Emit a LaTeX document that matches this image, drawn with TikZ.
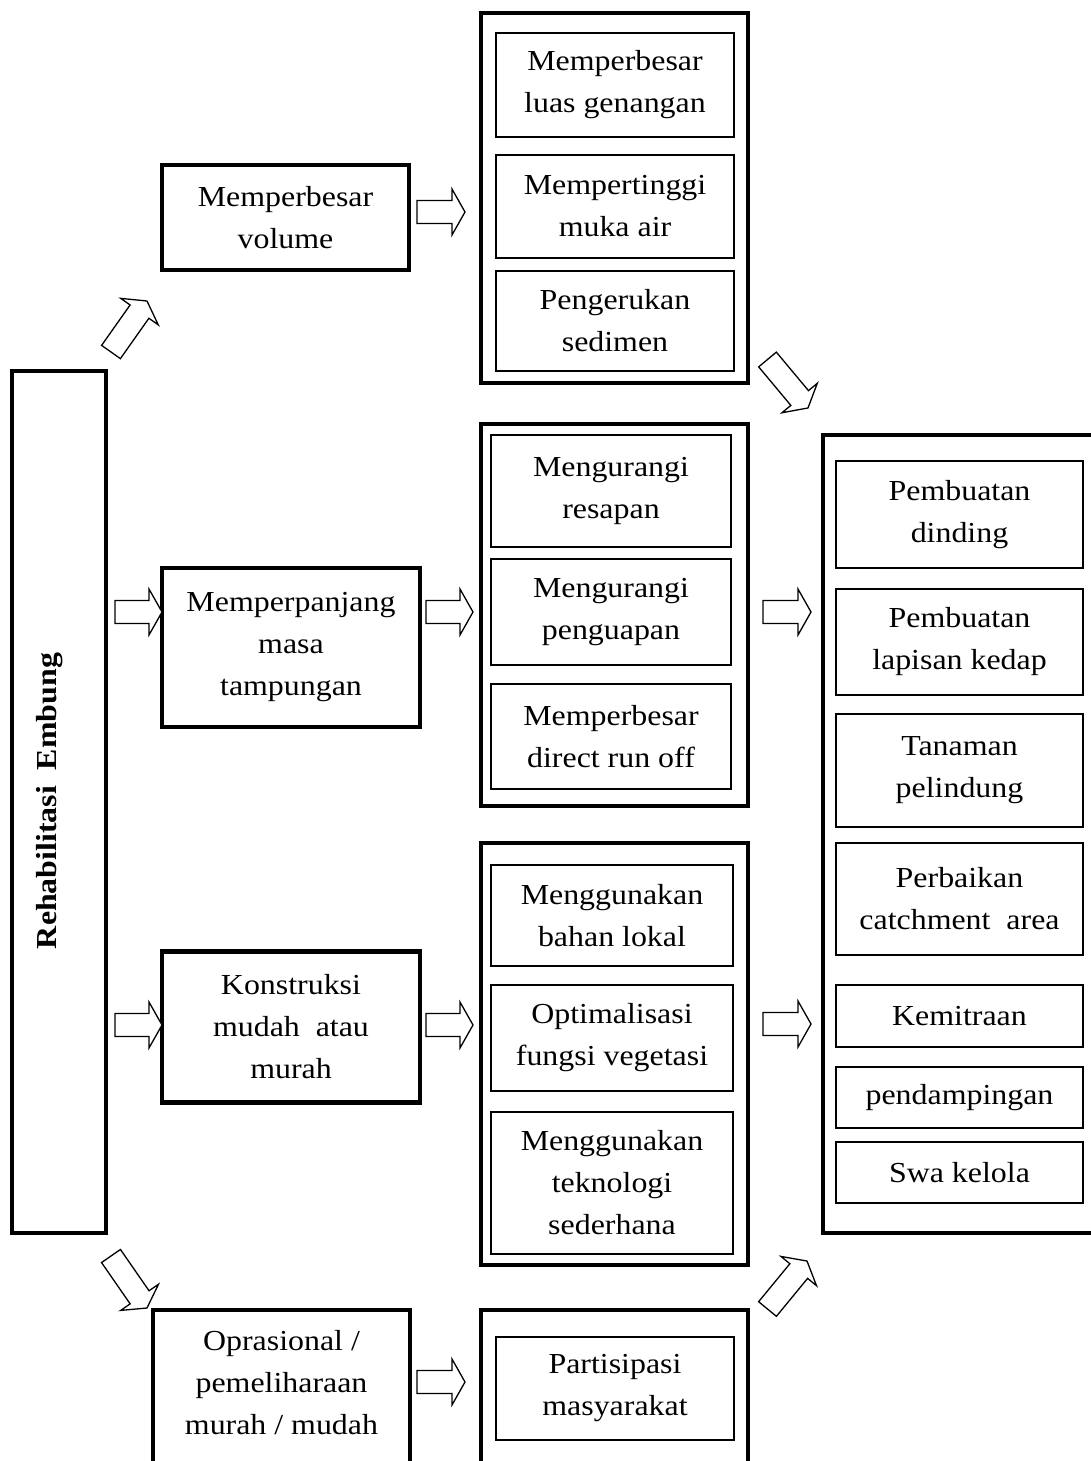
\documentclass[tikz,border=0pt]{standalone}
\usepackage{fontspec}
\setmainfont{Liberation Serif}[FakeStretch=1.1]
\begin{document}
\begin{tikzpicture}[x=1pt,y=-1pt,
  txt/.style={font=\fontsize{29}{42}\selectfont, align=center, inner sep=0pt},
  thickbox/.style={draw, line width=4.5pt, inner sep=0pt, txt},
  inbox/.style={draw, line width=1.5pt, inner sep=0pt, txt},
  arr/.style={draw, line width=1.3pt, fill=white, line join=miter}]
\newcommand{\barrow}[4]{%
  \pgfmathsetmacro{\bdx}{#3-#1}\pgfmathsetmacro{\bdy}{#2-#4}%
  \pgfmathsetmacro{\bang}{atan2(\bdy,\bdx)}\pgfmathsetmacro{\blen}{veclen(\bdx,\bdy)}%
  \begin{scope}[shift={(#1,#2)}, rotate=\bang]
    \draw[arr] (0,-11.5) -- (\blen-13,-11.5) -- (\blen-13,-23) -- (\blen,0)
      -- (\blen-13,23) -- (\blen-13,11.5) -- (0,11.5) -- cycle;
  \end{scope}}
\useasboundingbox (0,0) rectangle (1091,1461);
\clip (0,0) rectangle (1091,1461);
\fill[white] (0,0) rectangle (1091,1461);

% left main box
\node[thickbox, minimum width=94, minimum height=862] (L) at (59,802) {};
\node[txt, font=\fontsize{29}{42}\selectfont\bfseries, rotate=90, anchor=base] (Lt) at (56,801) {Rehabilitasi\ \ Embung};

% second level
\node[thickbox, minimum width=247, minimum height=105] (V) at (285.5,217.5) {Memperbesar\\volume};
\node[thickbox, minimum width=258, minimum height=159] (P) at (291,647.5) {Memperpanjang\\masa\\tampungan};
\node[thickbox, minimum width=258, minimum height=151] (K) at (291,1027) {Konstruksi\\mudah\ \ atau\\murah};
\node[thickbox, minimum width=257, minimum height=170] (O) at (281.5,1395) {};
\node[txt] (Ot) at (281.5,1383) {Oprasional /\\pemeliharaan\\murah / mudah};

% column 1
\node[thickbox, minimum width=267, minimum height=370] (C1) at (614.5,198) {};
\node[inbox, minimum width=238, minimum height=104] (a1) at (615,85) {Memperbesar\\luas genangan};
\node[inbox, minimum width=238, minimum height=103] (a2) at (615,206.5) {Mempertinggi\\muka air};
\node[inbox, minimum width=238, minimum height=100] (a3) at (615,321) {Pengerukan\\sedimen};

% column 2
\node[thickbox, minimum width=267, minimum height=382] (C2) at (614.5,615) {};
\node[inbox, minimum width=240, minimum height=112] (b1) at (611,491) {Mengurangi\\resapan};
\node[inbox, minimum width=240, minimum height=106] (b2) at (611,612) {Mengurangi\\penguapan};
\node[inbox, minimum width=240, minimum height=105] (b3) at (611,736.5) {Memperbesar\\direct run off};

% column 3
\node[thickbox, minimum width=267, minimum height=422] (C3) at (614.5,1054) {};
\node[inbox, minimum width=242, minimum height=101] (c1) at (612,915.5) {Menggunakan\\bahan lokal};
\node[inbox, minimum width=242, minimum height=106] (c2) at (612,1038) {Optimalisasi\\fungsi vegetasi};
\node[inbox, minimum width=242, minimum height=142] (c3) at (612,1183) {Menggunakan\\teknologi\\sederhana};

% column 4
\node[thickbox, minimum width=267, minimum height=170] (C4) at (614.5,1395) {};
\node[inbox, minimum width=238, minimum height=103] (d1) at (615,1388.5) {Partisipasi\\masyarakat};

% right column
\node[thickbox, minimum width=287, minimum height=798] (R) at (966.5,834) {};
\node[inbox, minimum width=247, minimum height=107] (r1) at (959.5,514.5) {Pembuatan\\dinding};
\node[inbox, minimum width=247, minimum height=106] (r2) at (959.5,642) {Pembuatan\\lapisan kedap};
\node[inbox, minimum width=247, minimum height=113] (r3) at (959.5,770.5) {Tanaman\\pelindung};
\node[inbox, minimum width=247, minimum height=112] (r4) at (959.5,899) {Perbaikan\\catchment\ \ area};
\node[inbox, minimum width=247, minimum height=62] (r5) at (959.5,1016) {Kemitraan};
\node[inbox, minimum width=247, minimum height=61] (r6) at (959.5,1097.5) {pendampingan};
\node[inbox, minimum width=247, minimum height=61] (r7) at (959.5,1172.5) {Swa kelola};

% block arrows
\barrow{417}{212}{465}{212}
\barrow{115}{612}{162}{612}
\barrow{426}{612}{473}{612}
\barrow{763}{612}{811}{612}
\barrow{115}{1025}{162}{1025}
\barrow{426}{1025}{473}{1025}
\barrow{763}{1024}{811}{1024}
\barrow{417}{1382}{465}{1382}
\barrow{111}{352}{147}{301}
\barrow{767.5}{359.5}{808}{408}
\barrow{111}{1256}{147}{1308}
\barrow{767.5}{1309}{807}{1261}
\end{tikzpicture}
\end{document}
